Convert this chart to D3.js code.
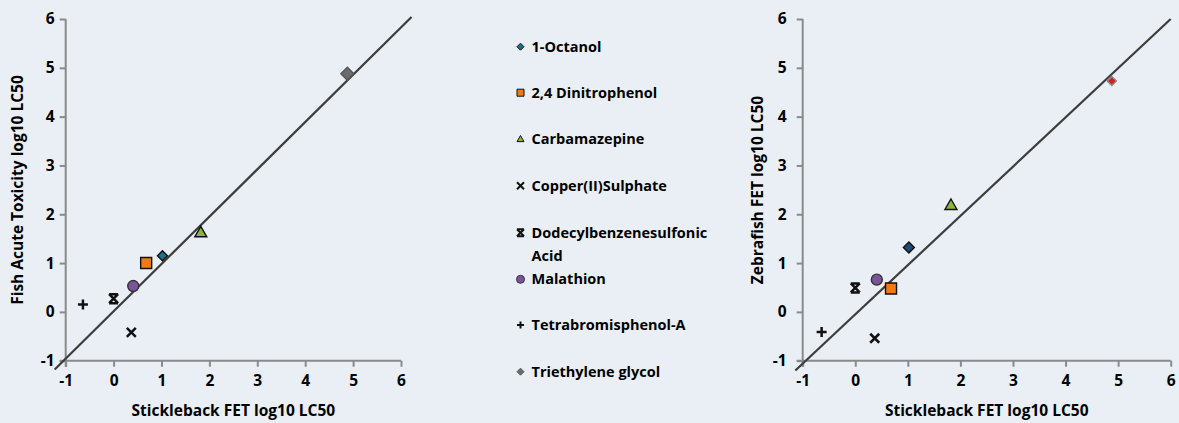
<!DOCTYPE html>
<html>
<head>
<meta charset="utf-8">
<script src="https://cdn.jsdelivr.net/npm/d3@7"></script>
<style>
  html, body { margin: 0; padding: 0; background: #e9eff4; }
  svg { display: block; }
  text { font-family: "Open Sans", Lato, sans-serif; font-weight: 700; fill: #000; }
</style>
</head>
<body>
<svg id="chart" width="1179" height="423"></svg>
<script>
// Compounds tested and their log10 LC50 values
const compounds = ["1-Octanol", "2,4 Dinitrophenol", "Carbamazepine", "Copper(II)Sulphate",
  "Dodecylbenzenesulfonic Acid", "Malathion", "Tetrabromisphenol-A", "Triethylene glycol"];
const sticklebackFET = [1.02, 0.68, 1.82, 0.37, 0.00, 0.41, -0.64, 4.88];
const fishAcute      = [1.15, 1.00, 1.63, -0.42, 0.27, 0.53, 0.15, 4.88];
const zebrafishFET   = [1.32, 0.48, 2.19, -0.54, 0.49, 0.66, -0.41, 4.73];
const axisTicks = [-1, 0, 1, 2, 3, 4, 5, 6];
// Fitted 1:1 lines for each panel
const fishFitLine  = [[-1.23, -1.18], [6.22, 6.04]];
const zebraFitLine = [[-1.14, -1.20], [6.00, 6.00]];
const xTitle = "Stickleback FET log10 LC50";
const fishTitle = "Fish Acute Toxicity log10 LC50";
const zebraTitle = "Zebrafish FET log10 LC50";

// Marker style per compound: shape, fill, stroke, size in px
const markerStyle = [
  { shape: "diamond",   fill: "#1d7088", stroke: "#111", size: 10 },
  { shape: "square",    fill: "#f07b14", stroke: "#111", size: 11 },
  { shape: "triangle",  fill: "#8db53c", stroke: "#111", size: 12 },
  { shape: "x",         fill: "none",    stroke: "#111", size: 9 },
  { shape: "hourglass", fill: "none",    stroke: "#111", size: 9 },
  { shape: "circle",    fill: "#7b559c", stroke: "#333", size: 11 },
  { shape: "plus",      fill: "none",    stroke: "#111", size: 10 },
  { shape: "diamond",   fill: "#6b6b6b", stroke: "#555", size: 13 }
];
// Zebrafish panel draws two compounds with their own look
const zebraOverrides = {
  0: { fill: "#1f4b7c", size: 11 },
  7: { fill: "#d81e1e", stroke: "#888", size: 9 }
};

function shapePath(shape, s) {
  const h = s / 2;
  switch (shape) {
    case "diamond":  return `M0,${-h}L${h},0L0,${h}L${-h},0Z`;
    case "square":   return `M${-h},${-h}H${h}V${h}H${-h}Z`;
    case "triangle": return `M0,${-h}L${h},${h * 0.75}L${-h},${h * 0.75}Z`;
    case "x":        return `M${-h},${-h}L${h},${h}M${h},${-h}L${-h},${h}`;
    case "hourglass":return `M${-h},${-h}L${h},${h}M${h},${-h}L${-h},${h}M${-h},${-h}H${h}M${-h},${h}H${h}`;
    case "plus":     return `M${-h},0H${h}M0,${-h}V${h}`;
    case "circle":   return `M${h},0A${h},${h},0,1,1,${-h},0A${h},${h},0,1,1,${h},0Z`;
  }
}
function lineWidth(shape) {
  return (shape === "x" || shape === "hourglass" || shape === "plus") ? 2.5 : 1.4;
}

const svg = d3.select("#chart");

function drawPanel(opts) {
  const x = d3.scaleLinear().domain([-1, 6]).range([opts.x0, opts.x1]);
  const y = d3.scaleLinear().domain([-1, 6]).range([360.7, 19]);
  const g = svg.append("g");

  const yAxis = d3.axisLeft(y).tickValues(axisTicks).tickSize(6).tickSizeOuter(0)
    .tickPadding(opts.yPad).tickFormat(d => String(d));
  const xAxis = d3.axisBottom(x).tickValues(axisTicks).tickSize(6).tickSizeOuter(0)
    .tickPadding(8).tickFormat(d => String(d));

  const gy = g.append("g").attr("transform", `translate(${opts.x0},0)`).call(yAxis);
  const gx = g.append("g").attr("transform", `translate(0,360.7)`).call(xAxis);
  [gx, gy].forEach(a => {
    a.selectAll("path, line").attr("stroke", "#8a8a8a").attr("stroke-width", 2);
    a.selectAll("text").style("font-size", "15.5px").attr("fill", "#000");
  });
  gx.select(".domain").attr("d", `M${opts.x0 - 6},0H${opts.x1}`);
  gy.select(".domain").attr("d", `M0,19V367`);

  // 1:1 fit line
  g.append("path")
    .attr("d", d3.line().x(d => x(d[0])).y(d => y(d[1]))(opts.fit))
    .attr("stroke", "#3d3d3d").attr("stroke-width", 2.2).attr("fill", "none");

  // data points
  const pts = compounds.map((c, i) => {
    const st = Object.assign({}, markerStyle[i], (opts.overrides || {})[i] || {});
    return { c, x: sticklebackFET[i], y: opts.values[i], st };
  });
  g.selectAll("path.pt").data(pts).join("path").attr("class", "pt")
    .attr("transform", d => `translate(${x(d.x)},${y(d.y)})`)
    .attr("d", d => shapePath(d.st.shape, d.st.size))
    .attr("fill", d => d.st.fill)
    .attr("stroke", d => d.st.stroke)
    .attr("stroke-width", d => lineWidth(d.st.shape));

  // axis titles
  g.append("text").attr("x", (opts.x0 + opts.x1) / 2).attr("y", 416)
    .attr("text-anchor", "middle").style("font-size", "15.5px").text(xTitle);
  g.append("text").attr("transform", `translate(${opts.titleX},190) rotate(-90)`)
    .attr("text-anchor", "middle").attr("dy", "0.35em").style("font-size", "15.5px").text(opts.yTitle);
}

drawPanel({ x0: 65.7, x1: 401, values: fishAcute, fit: fishFitLine, yTitle: fishTitle, titleX: 18, yPad: 5 });
drawPanel({ x0: 802.7, x1: 1170.7, values: zebrafishFET, fit: zebraFitLine, yTitle: zebraTitle, titleX: 758,
  yPad: 10, overrides: zebraOverrides });

// Legend
const legendY = [46.7, 92.7, 139, 185.7, 232.7, 279.3, 325, 371.7];
const legend = svg.append("g");
compounds.forEach((c, i) => {
  const st = markerStyle[i];
  const s = st.shape === "circle" ? 8 : 7;
  legend.append("path")
    .attr("transform", `translate(520.5,${legendY[i]})`)
    .attr("d", shapePath(st.shape, s))
    .attr("fill", st.fill).attr("stroke", st.stroke)
    .attr("stroke-width", st.fill === "none" ? 2 : 1);
  const t = legend.append("text").attr("x", 531.5).attr("y", legendY[i]).attr("dy", "0.35em")
    .style("font-size", "14.5px");
  if (c === "Dodecylbenzenesulfonic Acid") {
    t.append("tspan").attr("x", 531.5).text("Dodecylbenzenesulfonic");
    t.append("tspan").attr("x", 531.5).attr("dy", "1.6em").text("Acid");
  } else {
    t.text(c);
  }
});
</script>
</body>
</html>
